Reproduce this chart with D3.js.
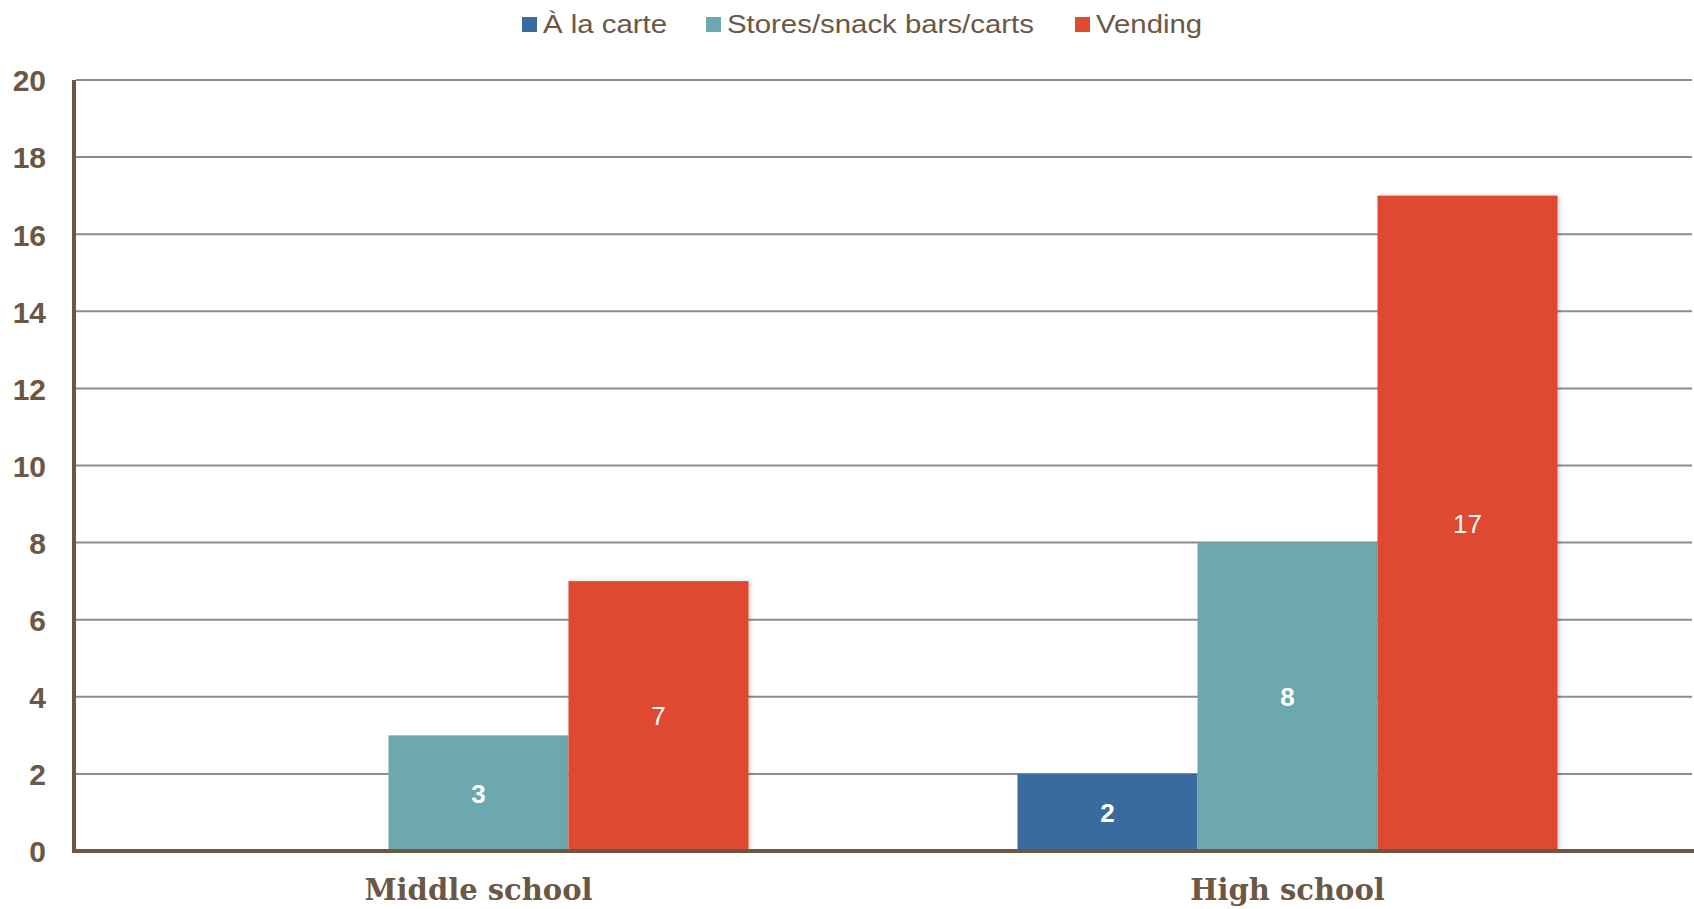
<!DOCTYPE html>
<html>
<head>
<meta charset="utf-8">
<script src="https://cdn.jsdelivr.net/npm/d3@7"></script>
<style>
  html, body { margin: 0; padding: 0; background: #ffffff; }
  svg { display: block; }
</style>
</head>
<body>
<svg id="chart" width="1694" height="909"></svg>
<script>
// ---- data ----
const categories = ["Middle school", "High school"];
const seriesNames = ["À la carte", "Stores/snack bars/carts", "Vending"];
const alaCarte = [null, 2];
const storesSnack = [3, 8];
const vending = [7, 17];
const yTicks = [0, 2, 4, 6, 8, 10, 12, 14, 16, 18, 20];

(function () {
const seriesValues = [alaCarte, storesSnack, vending];
const colors = ["#3a6b9e", "#6ca8ae", "#df4a30"];
const brown = "#6b5744";

const svg = d3.select("#chart");
const W = 1694;
const plotLeft = 74, plotRight = 1692, plotTop = 80, plotBottom = 851;

const defs = svg.append("defs");
const f = defs.append("filter").attr("id", "shadow").attr("x", "-10%").attr("y", "-10%").attr("width", "120%").attr("height", "120%");
f.append("feDropShadow").attr("dx", 2).attr("dy", 0).attr("stdDeviation", 2).attr("flood-color", "#000").attr("flood-opacity", 0.18);

const y = d3.scaleLinear().domain([0, 20]).range([plotBottom, plotTop]);
const x0 = d3.scaleBand().domain(categories).range([plotLeft, plotRight]).paddingInner(0.3325).paddingOuter(0.16625);
const x1 = d3.scaleBand().domain(seriesNames).range([0, x0.bandwidth()]).padding(0);

// gridlines
svg.append("g")
  .selectAll("line")
  .data(yTicks.filter(d => d > 0))
  .join("line")
  .attr("x1", plotLeft + 2).attr("x2", plotRight)
  .attr("y1", d => y(d)).attr("y2", d => y(d))
  .attr("stroke", "#8c8c8c").attr("stroke-width", 2);

// y axis labels
const yAxis = d3.axisLeft(y).tickValues(yTicks).tickSize(0).tickPadding(0);
const yg = svg.append("g").attr("transform", `translate(${plotLeft - 28},0)`).call(yAxis);
yg.select(".domain").remove();
yg.selectAll("text")
  .attr("fill", brown)
  .attr("font-family", "'Liberation Sans', Arial, sans-serif")
  .attr("font-weight", "bold")
  .attr("font-size", 30)
  .attr("dy", "0.36em");

// bars
const groups = svg.append("g").selectAll("g")
  .data(categories)
  .join("g")
  .attr("transform", d => `translate(${x0(d)},0)`);

seriesNames.forEach((s, si) => {
  const vals = seriesValues[si];
  groups.each(function(cat, ci) {
    const v = vals[ci];
    if (v == null) return;
    d3.select(this).append("rect")
      .attr("x", x1(s))
      .attr("y", y(v))
      .attr("width", x1.bandwidth())
      .attr("height", y(0) - y(v))
      .attr("fill", colors[si])
      .attr("filter", si === 2 ? "url(#shadow)" : null);
  });
});

// labels
seriesNames.forEach((s, si) => {
  const vals = seriesValues[si];
  groups.each(function(cat, ci) {
    const v = vals[ci];
    if (v == null) return;
    d3.select(this).append("text")
      .attr("x", x1(s) + x1.bandwidth() / 2)
      .attr("y", (y(v) + y(0)) / 2)
      .attr("dy", "0.36em")
      .attr("text-anchor", "middle")
      .attr("fill", "#ffffff")
      .attr("font-family", "'Liberation Sans', Arial, sans-serif")
      .attr("font-weight", si === 2 ? "normal" : "bold")
      .attr("font-size", 26)
      .text(v);
  });
});

// axes lines
svg.append("line").attr("x1", plotLeft).attr("x2", plotLeft).attr("y1", plotTop).attr("y2", plotBottom + 2)
  .attr("stroke", brown).attr("stroke-width", 4);
svg.append("line").attr("x1", plotLeft - 2).attr("x2", W).attr("y1", plotBottom).attr("y2", plotBottom)
  .attr("stroke", brown).attr("stroke-width", 4);

// x labels
svg.append("g").selectAll("text")
  .data(categories)
  .join("text")
  .attr("x", d => x0(d) + x0.bandwidth() / 2)
  .attr("y", 900)
  .attr("text-anchor", "middle")
  .attr("fill", brown)
  .attr("font-family", "'DejaVu Serif', Georgia, serif")
  .attr("font-weight", "bold")
  .attr("font-size", 29)
  .text(d => d);

// legend
const legendX = [522, 706, 1075];
const lg = svg.append("g");
seriesNames.forEach((s, i) => {
  lg.append("rect").attr("x", legendX[i]).attr("y", 17).attr("width", 15).attr("height", 15).attr("fill", colors[i]);
  lg.append("text")
    .attr("transform", `translate(${legendX[i] + 21},33) scale(1.13,1)`)
    .attr("fill", brown)
    .attr("font-family", "'Liberation Sans', Arial, sans-serif")
    .attr("font-size", 26)
    .text(s);
});
})();
</script>
</body>
</html>
